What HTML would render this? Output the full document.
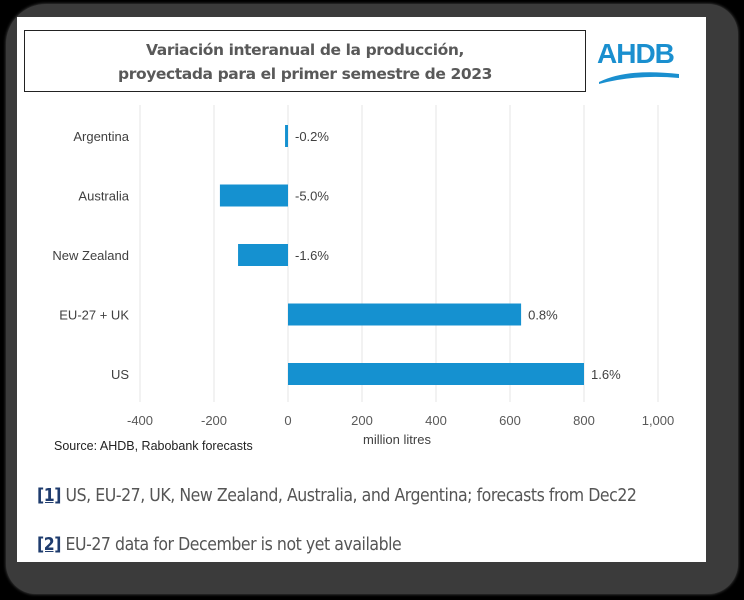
<!DOCTYPE html>
<html><head><meta charset="utf-8">
<style>
html,body{margin:0;padding:0;width:744px;height:600px;background:#000;overflow:hidden;font-family:"Liberation Sans",sans-serif}
#frame{position:absolute;left:6px;top:4px;width:732px;height:590px;background:#3b3b3b;border-radius:40px 30px 30px 30px;box-shadow:0 0 3px #555}
#inner{position:absolute;left:17px;top:17px;width:689px;height:545px;background:#fff}
#title{position:absolute;left:24px;top:30px;width:562px;height:62px;border:1px solid #222;background:#fff;color:#595959;font-weight:bold;font-size:15.5px;line-height:24px;text-align:center;padding-top:7px;box-sizing:border-box;font-family:"DejaVu Sans","Liberation Sans",sans-serif;letter-spacing:-0.4px}
#logo{position:absolute;left:597px;top:38px;color:#1a8fcf;font-weight:bold;font-size:28px;letter-spacing:-1px}
.fn{position:absolute;left:37px;color:#555;font-size:17.5px;font-family:"DejaVu Sans Condensed","DejaVu Sans",sans-serif;letter-spacing:-0.45px}
.fn b{color:#1f3c6e;text-decoration:underline}
</style></head><body>
<div id="frame"></div>
<div id="inner"></div>
<div id="title">Variación interanual de la producción,<br>proyectada para el primer semestre de 2023</div>
<div id="logo">AHDB
<svg width="84" height="18" style="position:absolute;left:0;top:30px"><path d="M2,14 Q30,0 82,6 L82,10 Q40,6 2,16 Z" fill="#1a8fcf"/></svg></div>
<svg id="chart" width="744" height="600" style="position:absolute;left:0;top:0"></svg>
<div class="fn" style="top:486px"><b>[1]</b> US, EU-27, UK, New Zealand, Australia, and Argentina; forecasts from Dec22</div>
<div class="fn" style="top:535px"><b>[2]</b> EU-27 data for December is not yet available</div>
<script>
const categories=["Argentina","Australia","New Zealand","EU-27 + UK","US"];
const values=[-8,-184,-135,630,800];
const pctLabels=["-0.2%","-5.0%","-1.6%","0.8%","1.6%"];
const ticks=[-400,-200,0,200,400,600,800,1000];
const tickLabels=["-400","-200","0","200","400","600","800","1,000"];
const NS="http://www.w3.org/2000/svg";
const svg=document.getElementById('chart');
const x=v=>288+v*0.37;
const yc=i=>136+i*59.5;
function mk(t,a){const e=document.createElementNS(NS,t);for(const k in a)e.setAttribute(k,a[k]);svg.appendChild(e);return e;}
ticks.forEach((t,i)=>{
  const g=mk('line',{x1:x(t),x2:x(t),y1:105,y2:402,stroke:'#e6e6e6','stroke-width':1});
  
  
  const l=mk('text',{x:x(t),y:425,'text-anchor':'middle','font-size':13,fill:'#595959'});
  l.textContent=tickLabels[i];
  
  
});
categories.forEach((c,i)=>{
  const v=values[i];
  const r=mk('rect',{x:Math.min(x(v),x(0)),y:yc(i)-11,width:Math.abs(x(v)-x(0)),height:22,fill:'#1591d0'});
  
  
  const cl=mk('text',{x:129,y:yc(i)+5,'text-anchor':'end','font-size':13,fill:'#404040'});
  cl.textContent=c;
  
  
  const vl=mk('text',{x:Math.max(x(v),x(0))+7,y:yc(i)+5,'font-size':13,fill:'#404040'});
  vl.textContent=pctLabels[i];
  
  
});
const at=mk('text',{x:397,y:444,'text-anchor':'middle','font-size':13,fill:'#404040'});
at.textContent='million litres';


const src=mk('text',{x:54,y:450,'font-size':12.5,fill:'#222'});
src.textContent='Source: AHDB,  Rabobank forecasts';


</script>
</body></html>
